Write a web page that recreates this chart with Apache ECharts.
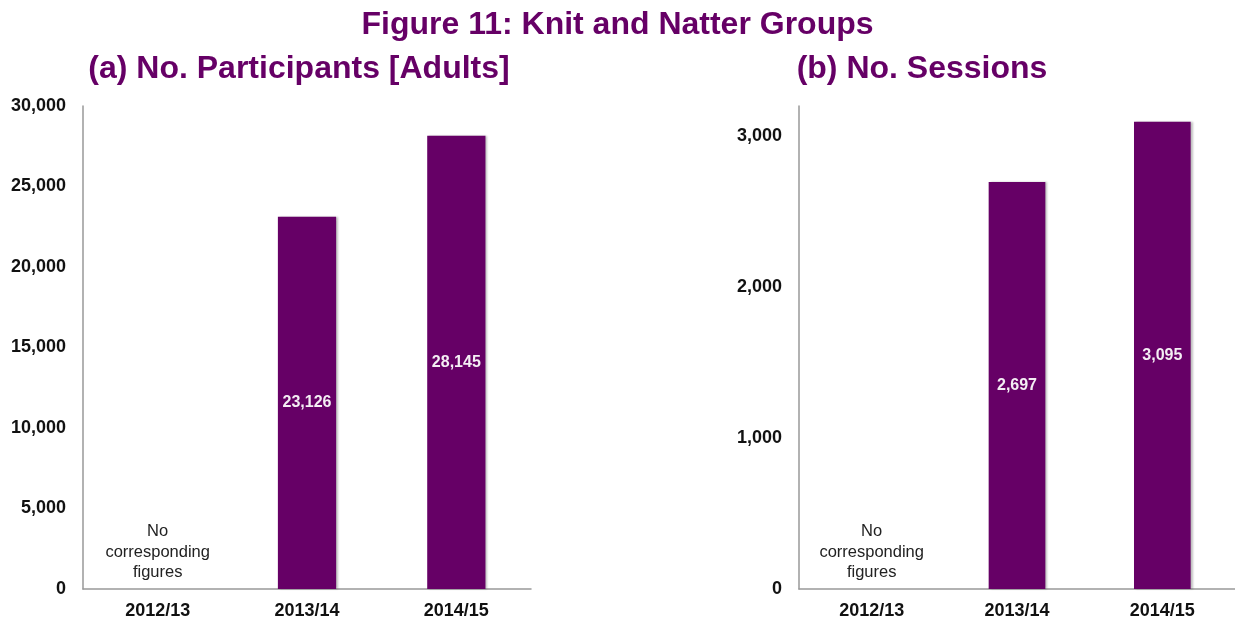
<!DOCTYPE html>
<html><head><meta charset="utf-8">
<script src="https://cdn.jsdelivr.net/npm/echarts@6/dist/echarts.min.js"></script>
<style>html,body{margin:0;padding:0;background:#fff}#c{width:1235px;height:622px}</style>
</head><body><div id="c"></div>
<script>
const categories = ['2012/13', '2013/14', '2014/15'];
const participants = [null, 23126, 28145];
const sessions = [null, 2697, 3095];
const noDataText = 'No\ncorresponding\nfigures';
const mainTitle = 'Figure 11: Knit and Natter Groups';
const titleA = '(a) No. Participants [Adults]';
const titleB = '(b) No. Sessions';

const purple = '#660066';
const font = 'Liberation Sans, Arial, sans-serif';
const fmt = v => Number(v).toLocaleString('en-US');

function buildData(arr) {
  return arr.map(v => v === null ? {
    value: 0,
    label: { show: true, position: 'top', distance: 6, formatter: noDataText,
      color: '#222', fontWeight: 'normal', fontSize: 16.5, lineHeight: 20.5, fontFamily: font }
  } : { value: v });
}

function xAxis(i) {
  return { type: 'category', gridIndex: i, data: categories,
    axisLine: { lineStyle: { color: '#999', width: 1.5 } }, axisTick: { show: false },
    axisLabel: { color: '#111', fontWeight: 'bold', fontSize: 18, fontFamily: font, margin: 13 } };
}
function yAxis(i, max, interval) {
  return { type: 'value', gridIndex: i, min: 0, max: max, interval: interval,
    axisLine: { show: true, lineStyle: { color: '#999', width: 1.5 } }, axisTick: { show: false },
    splitLine: { show: false },
    axisLabel: { color: '#111', fontWeight: 'bold', fontSize: 18, fontFamily: font, margin: 17,
      showMaxLabel: max % interval === 0, formatter: fmt } };
}
function barSeries(i, arr) {
  return { type: 'bar', xAxisIndex: i, yAxisIndex: i, data: buildData(arr), barWidth: '39%',
    itemStyle: { color: purple, shadowColor: 'rgba(0,0,0,0.25)', shadowOffsetX: 2, shadowBlur: 2 },
    label: { show: true, position: 'inside', color: '#f4eef4', fontWeight: 'bold', fontSize: 16,
      fontFamily: font, formatter: p => fmt(p.value) } };
}

const chart = echarts.init(document.getElementById('c'), null, { renderer: 'canvas' });
chart.setOption({
  animation: false,
  backgroundColor: '#fff',
  title: [
    { text: mainTitle, left: 'center', top: 4, textStyle: { color: purple, fontSize: 32, fontWeight: 'bold', fontFamily: font } },
    { text: titleA, left: 294, top: 48, textAlign: 'center', textStyle: { color: purple, fontSize: 32, fontWeight: 'bold', fontFamily: font } },
    { text: titleB, left: 917, top: 48, textAlign: 'center', textStyle: { color: purple, fontSize: 32, fontWeight: 'bold', fontFamily: font } }
  ],
  grid: [
    { left: 83, top: 106, width: 448, bottom: 33 },
    { left: 799, top: 106, width: 436, bottom: 33 }
  ],
  xAxis: [xAxis(0), xAxis(1)],
  yAxis: [yAxis(0, 30000, 5000), yAxis(1, 3200, 1000)],
  series: [barSeries(0, participants), barSeries(1, sessions)]
});
</script></body></html>
